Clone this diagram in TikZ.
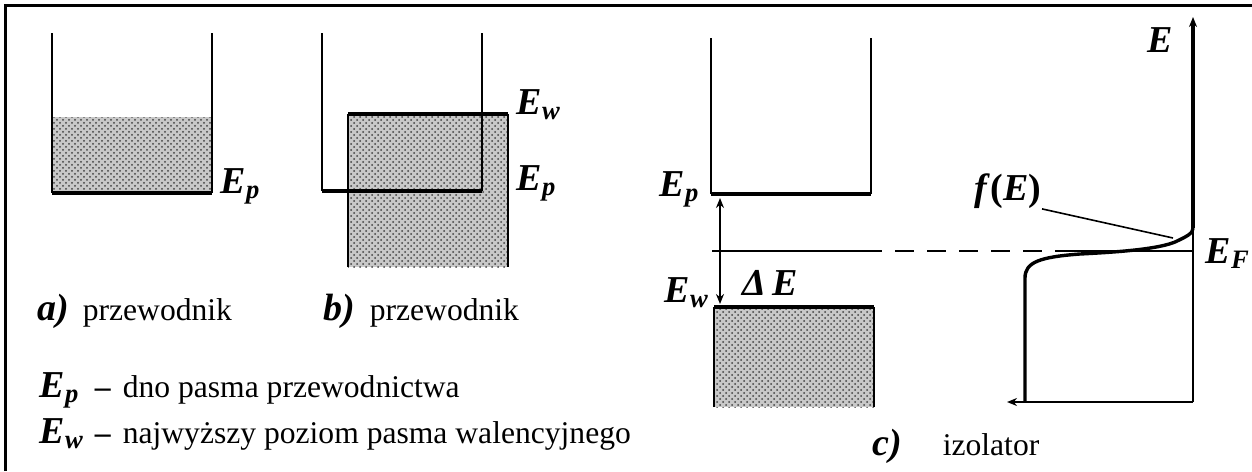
\documentclass[tikz,border=0pt]{standalone}
\usepackage{fontspec}
\setmainfont{Liberation Serif}
\usetikzlibrary{arrows.meta, patterns}
\definecolor{bandfill}{HTML}{C8C8C8}
\definecolor{dotink}{HTML}{404040}

\newcommand{\lev}[2]{\textbf{\textit{#1\textsubscript{#2}}}}

\begin{document}
\begin{tikzpicture}[x=0.5pt, y=-0.5pt, >={Stealth[length=5pt, width=4pt]}, line width=0.8pt,
  wall/.style={line width=0.8pt},
  level/.style={line width=2.2pt},
  band/.style={fill=bandfill, postaction={pattern=crosshatch dots, pattern color=dotink}},
  levlab/.style={font=\fontsize{19}{20}\selectfont, inner sep=0pt},
  tag/.style={font=\fontsize{19}{20}\selectfont\bfseries\itshape, inner sep=0pt},
  caption/.style={font=\fontsize{15.8}{18}\selectfont, inner sep=0pt}]

\useasboundingbox (0,0) rectangle (1252,471);

% Frame (only top and left edges show)
\draw[line width=1.5pt] (5,471) -- (5,5) -- (1252,5);

% === a) conductor ===
\path[band] (52,117) rectangle (212,193);
\draw[wall] (52,33) -- (52,193) (212,33) -- (212,193);
\draw[level] (52,193) -- (212,193);
\node[levlab, anchor=base west] (aEp) at (220,193) {\lev{E}{p}};

% === b) conductor, overlapping bands ===
\path[band] (348,114) rectangle (508,267);
\draw[wall] (348,267) -- (348,114) (508,114) -- (508,267);
\draw[wall] (322,33) -- (322,191) (482,33) -- (482,191);
\draw[level] (348,114) -- (508,114);
\draw[level] (322,191) -- (482,191);
\node[levlab, anchor=base west] (bEw) at (516,114) {\lev{E}{w}};
\node[levlab, anchor=base west] (bEp) at (516,190) {\lev{E}{p}};

% === c) insulator ===
\draw[wall] (711,38) -- (711,194) (871,38) -- (871,194);
\draw[level] (711,194) -- (871,194);
\path[band] (714,307) rectangle (874,407);
\draw[wall] (714,407) -- (714,307) (874,307) -- (874,407);
\draw[level] (714,307) -- (874,307);
\node[levlab, anchor=base west] (cEp) at (659,196) {\lev{E}{p}};
\node[levlab, anchor=base west] (cEw) at (664,302) {\lev{E}{w}};
\node[levlab, anchor=base west] (gapLab) at (742,295) {\textbf{\textit{Δ\,E}}};

% band gap arrow
\coordinate (gTop) at (720,198);
\coordinate (gBot) at (720,304);
\draw[wall, <->] (gTop) -- (gBot);

% Fermi level
\coordinate (fL) at (712,251);
\coordinate (fS) at (863,251);
\coordinate (fD) at (1060,251);
\coordinate (fR) at (1193,251);
\draw[wall] (fL) -- (fS);
\draw[wall, dash pattern=on 9.5pt off 6.5pt] (fS) -- (fD);
\draw[wall] (fD) -- (fR);

% === Fermi--Dirac function ===
\coordinate (orig) at (1193,402);
\coordinate (xEnd) at (1007,402);
\coordinate (knee) at (1193,228);
\coordinate (yEnd) at (1193,17);
\draw[wall] (knee) -- (orig);
\draw[wall, ->] (orig) -- (xEnd);
\draw[line width=2pt, ->] (knee) -- (yEnd);
\draw[line width=1.7pt] (1025,402) -- (1025,278)
  .. controls (1025,262) and (1040,257) .. (1080,254)
  .. controls (1120,252) and (1158,249) .. (1175,242)
  .. controls (1188,236) and (1193,233) .. (knee);

\node[levlab, anchor=base west] (axE) at (1147,52) {\textbf{\textit{E}}};
\node[levlab, anchor=base west] (EF) at (1205,263) {\lev{E}{F}};
\node[levlab, anchor=base west] (fE) at (974,200) {\textbf{\textit{f}(\textit{E})}};
\coordinate (fPt) at (1173,238);
\draw[wall] (fE.south east) -- (fPt);

% === Captions ===
\node[tag, anchor=base west] (aTag) at (37,320) {a)};
\node[caption, anchor=base west] (aTxt) at (82,320) {przewodnik};
\node[tag, anchor=base west] (bTag) at (323,320) {b)};
\node[caption, anchor=base west] (bTxt) at (369,320) {przewodnik};
\node[tag, anchor=base west] (cTag) at (872,455) {c)};
\node[caption, anchor=base west] (cTxt) at (942,455) {izolator};

% legend
\node[levlab, anchor=base west] (legPE) at (39,397) {\lev{E}{p}};
\node[caption, anchor=base west] (legPT) at (94,397)
  {\textbf{–}\hspace{6pt}dno pasma przewodnictwa};
\node[levlab, anchor=base west] (legWE) at (39,443) {\lev{E}{w}};
\node[caption, anchor=base west] (legWT) at (94,443)
  {\textbf{–}\hspace{6pt}najwyższy poziom pasma walencyjnego};

\end{tikzpicture}
\end{document}
